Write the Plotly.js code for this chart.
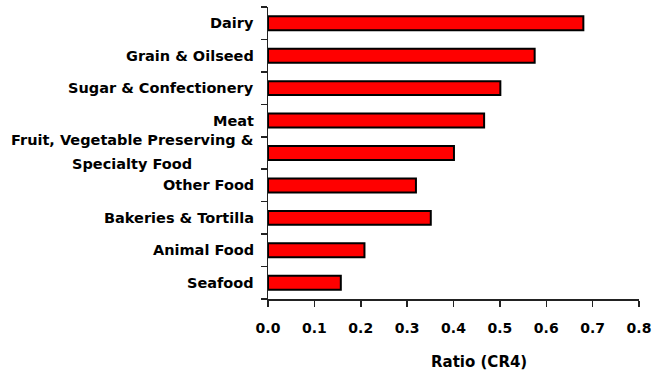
<!DOCTYPE html>
<html>
<head>
<meta charset="utf-8">
<script src="https://cdn.plot.ly/plotly-3.0.1.min.js"></script>
<style>html,body{margin:0;padding:0;background:#fff;}#chart{width:655px;height:372px;}</style>
</head>
<body>
<div id="chart"></div>
<script>
// Categories listed bottom to top
const categories = [
  "Seafood",
  "Animal Food",
  "Bakeries & Tortilla",
  "Other Food",
  "Fruit, Vegetable Preserving &<br>Specialty Food",
  "Meat",
  "Sugar & Confectionery",
  "Grain & Oilseed",
  "Dairy"
];
const cr4Values = [0.157, 0.208, 0.351, 0.319, 0.401, 0.466, 0.501, 0.575, 0.680];
const xTickValues = [0, 0.1, 0.2, 0.3, 0.4, 0.5, 0.6, 0.7, 0.8];
const xTickLabels = ["0.0", "0.1", "0.2", "0.3", "0.4", "0.5", "0.6", "0.7", "0.8"];
const xAxisTitle = "Ratio (CR4)";

const FONT = "DejaVu Sans, Verdana, sans-serif";
const axisColor = "#222";

const trace = {
  type: "bar",
  orientation: "h",
  x: cr4Values,
  y: categories,
  marker: {color: "#ff0000", line: {color: "#000", width: 2}},
  hoverinfo: "x+y"
};

// Category labels drawn as annotations (allows centred multi-line label)
const annotations = [];
const lineGap = 24;
categories.forEach(function (cat) {
  const lines = cat.split("<br>");
  const n = lines.length;
  lines.forEach(function (ln, i) {
    annotations.push({
      xref: "paper", yref: "y", x: 0, y: cat,
      xanchor: n > 1 ? "center" : "right", yanchor: "middle",
      xshift: n > 1 ? -136 : -12,
      yshift: ((n - 1) / 2 - i) * lineGap + (n > 1 ? 1 : 0),
      text: "<b>" + ln + "</b>", showarrow: false,
      font: {family: FONT, size: 14.5, color: "#000"}
    });
  });
});
annotations.push({
  xref: "paper", yref: "paper", x: 0.569, y: 0, yanchor: "middle", yshift: -63,
  text: "<b>" + xAxisTitle + "</b>", showarrow: false,
  font: {family: FONT, size: 15, color: "#000"}
});

const layout = {
  width: 655, height: 372,
  margin: {l: 268, r: 16, t: 7, b: 73},
  paper_bgcolor: "#fff", plot_bgcolor: "#fff",
  showlegend: false,
  bargap: 0.57,
  font: {family: FONT, color: "#000"},
  xaxis: {
    range: [0, 0.8], tickvals: xTickValues, ticktext: xTickLabels,
    showgrid: false, zeroline: false,
    showline: true, linecolor: axisColor, linewidth: 1.5,
    ticks: "outside", ticklen: 6, tickcolor: axisColor, tickwidth: 1.5,
    ticklabelstandoff: 10,
    tickfont: {family: FONT, size: 14, color: "#000", weight: "bold"},
    fixedrange: true
  },
  yaxis: {
    type: "category", categoryorder: "array", categoryarray: categories,
    range: [-0.5, 8.5],
    showticklabels: false,
    tickson: "boundaries",
    showgrid: false, zeroline: false,
    showline: true, linecolor: axisColor, linewidth: 1.5,
    ticks: "outside", ticklen: 6, tickcolor: axisColor, tickwidth: 1.5,
    fixedrange: true
  },
  annotations: annotations
};

Plotly.newPlot("chart", [trace], layout, {displayModeBar: false, staticPlot: true});
</script>
</body>
</html>
